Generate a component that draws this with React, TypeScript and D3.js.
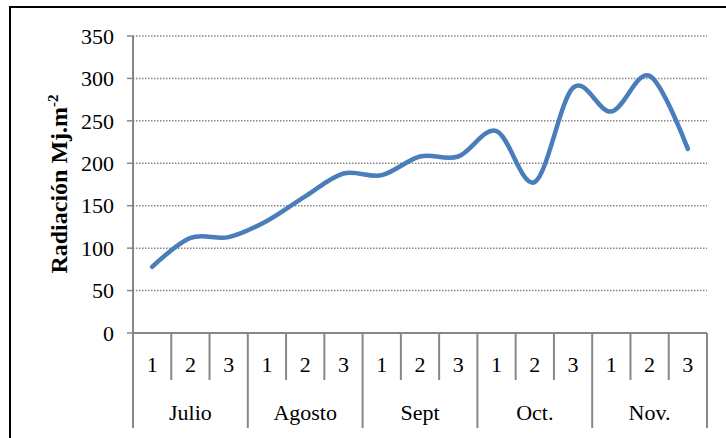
import React from "react";
import * as d3 from "d3";

const months = ["Julio", "Agosto", "Sept", "Oct.", "Nov."];
const decades = ["1", "2", "3"];
const values = [78, 112, 113, 132, 161, 188, 186, 208, 208, 238, 178, 289, 261, 303, 217];
const yTicks = [0, 50, 100, 150, 200, 250, 300, 350];

const W = 726;
const H = 438;
const left = 133;
const right = 707;
const top = 36;
const bottom = 333;
const font = '"Liberation Serif"';
const gray = "#878787";
const ts = { fontFamily: font };

export default function App() {
  const categories = months.flatMap((m) => decades.map((d) => `${m}-${d}`));
  const x = d3.scaleBand().domain(categories).range([left, right]);
  const y = d3.scaleLinear().domain([0, 350]).range([bottom, top]);
  const line = d3
    .line<number>()
    .x((_, i) => (x(categories[i]) as number) + x.bandwidth() / 2)
    .y((d) => y(d))
    .curve(d3.curveCardinal.tension(0));
  const bw = x.bandwidth();

  return (
    <svg
      width={W}
      height={H}
      style={{ position: "fixed", left: 0, top: 0, background: "#fff", fontFamily: font }}
    >
      <rect x={10} y={7} width={730} height={450} fill="#fff" stroke="#000" strokeWidth={2} />
      {yTicks.map((t) => (
        <g key={t}>
          {t > 0 && (
            <line
              x1={left}
              x2={right}
              y1={y(t)}
              y2={y(t)}
              stroke={gray}
              strokeWidth={1.5}
              strokeDasharray="1.5 1.5"
            />
          )}
          <line x1={127} x2={left} y1={y(t)} y2={y(t)} stroke={gray} strokeWidth={1.5} />
          <text x={114} y={y(t)} dy="0.35em" textAnchor="end" fontSize={22} fill="#000" style={ts}>
            {t}
          </text>
        </g>
      ))}
      <line x1={left} x2={left} y1={top} y2={bottom} stroke={gray} strokeWidth={2} />
      <line x1={left} x2={right} y1={bottom} y2={bottom} stroke={gray} strokeWidth={2} />
      {categories.map((c, i) => {
        const x0 = x(c) as number;
        const isMonthStart = i % 3 === 0;
        return (
          <g key={c}>
            <line
              x1={x0}
              x2={x0}
              y1={bottom}
              y2={isMonthStart ? 428 : 380}
              stroke={gray}
              strokeWidth={2}
            />
            <text x={x0 + bw / 2} y={364} dy="0.35em" textAnchor="middle" fontSize={22} fill="#000" style={ts}>
              {decades[i % 3]}
            </text>
          </g>
        );
      })}
      <line x1={right} x2={right} y1={bottom} y2={428} stroke={gray} strokeWidth={2} />
      {months.map((m, i) => {
        const x0 = x(categories[i * 3]) as number;
        return (
          <text
            key={m}
            x={x0 + (bw * 3) / 2}
            y={412}
            dy="0.35em"
            textAnchor="middle"
            fontSize={22}
            fill="#000"
            style={ts}
          >
            {m}
          </text>
        );
      })}
      <path
        d={line(values) || ""}
        fill="none"
        stroke="#4a7ebb"
        strokeWidth={4.5}
        strokeLinecap="round"
        strokeLinejoin="round"
      />
      <text
        transform={`translate(67, 184) rotate(-90)`}
        textAnchor="middle"
        fontSize={24}
        fontWeight="bold"
        fill="#000"
        style={ts}
      >
        Radiación Mj.m
        <tspan dy={-9} fontSize={15}>
          -2
        </tspan>
      </text>
    </svg>
  );
}
